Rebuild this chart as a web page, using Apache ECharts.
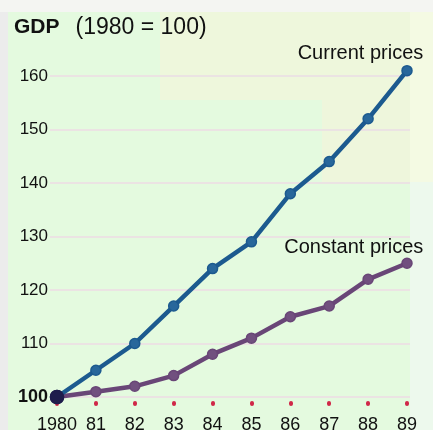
<!DOCTYPE html>
<html>
<head>
<meta charset="utf-8">
<script src="https://cdn.jsdelivr.net/npm/echarts@6/dist/echarts.min.js"></script>
<style>
  html, body { margin: 0; padding: 0; background: #e4fadf; }
  #chart { width: 433px; height: 430px; }
</style>
</head>
<body>
<div id="chart"></div>
<script>
// GDP index, 1980 = 100
const years = ['1980', '81', '82', '83', '84', '85', '86', '87', '88', '89'];
const currentPrices = [100, 105, 110, 117, 124, 129, 138, 144, 152, 161];
const constantPrices = [100, 101, 102, 104, 108, 111, 115, 117, 122, 125];
const yTicks = { min: 100, max: 160, step: 10 };

const FONT = '"Liberation Sans", Arial, Helvetica, sans-serif';
const BLUE = '#1c5a8f';
const PURPLE = '#694677';
const TEXT = '#111111';

function withFirstPoint(values) {
  return values.map((v, i) => i === 0
    ? { value: v, symbolSize: 13, itemStyle: { color: '#1e1d4c', borderColor: '#1e1d4c' } }
    : v);
}

function endLabel(values, text, pos) {
  const data = withFirstPoint(values);
  const last = data.length - 1;
  data[last] = {
    value: values[last],
    label: {
      show: true, formatter: text, position: pos, align: 'right', verticalAlign: 'middle',
      fontFamily: FONT, fontSize: 20, color: TEXT
    }
  };
  return data;
}

const chart = echarts.init(document.getElementById('chart'), null, { renderer: 'canvas' });

chart.setOption({
  backgroundColor: '#e4fadf',
  animation: false,
  graphic: [
    // paper tints behind the plot
    { type: 'rect', z: -10, shape: { x: 0, y: 0, width: 433, height: 12 }, style: { fill: '#f4f5f2' } },
    { type: 'rect', z: -10, shape: { x: 0, y: 12, width: 8, height: 418 }, style: { fill: '#ececec' } },
    { type: 'rect', z: -10, shape: { x: 160, y: 12, width: 250, height: 88 }, style: { fill: '#eef7dc' } },
    { type: 'rect', z: -10, shape: { x: 322, y: 100, width: 88, height: 84 }, style: { fill: '#eef6dc' } },
    { type: 'rect', z: -10, shape: { x: 410, y: 12, width: 23, height: 170 }, style: { fill: '#f4fae3' } },
    { type: 'rect', z: -10, shape: { x: 410, y: 182, width: 23, height: 248 }, style: { fill: '#edf9ed' } },
    {
      type: 'text', left: 14, top: 16, z: 10,
      style: {
        text: '{b|GDP}{n|(1980 = 100)}',
        font: '21px ' + FONT, fill: TEXT,
        rich: {
          b: { fontWeight: 'bold', fontSize: 21, fontFamily: FONT, fill: TEXT },
          n: { fontSize: 23, fontFamily: FONT, fill: TEXT, padding: [0, 0, 0, 16] }
        }
      }
    }
  ],
  grid: [
    { left: 57, right: 26, top: 76, bottom: 33, outerBoundsMode: 'none', containLabel: false },
    { left: 50, right: 23, top: 76, bottom: 33, outerBoundsMode: 'none', containLabel: false }
  ],
  xAxis: [
    {
      type: 'category', gridIndex: 0, data: years, boundaryGap: false,
      axisLine: { show: false }, axisTick: { show: false }, splitLine: { show: false },
      axisLabel: { margin: 19, fontFamily: FONT, fontSize: 18, color: TEXT, interval: 0 }
    },
    {
      type: 'category', gridIndex: 0, data: years, boundaryGap: false, position: 'bottom', offset: 6,
      axisLine: { show: false }, axisLabel: { show: false }, splitLine: { show: false },
      axisTick: { show: true, length: 1, interval: 0, lineStyle: { color: '#d02848', width: 4, cap: 'round' } }
    },
    {
      type: 'value', gridIndex: 1, min: 0, max: 1, show: false
    }
  ],
  yAxis: [
    {
      type: 'value', gridIndex: 0, min: yTicks.min, max: yTicks.max, interval: yTicks.step,
      axisLine: { show: false }, axisTick: { show: false }, splitLine: { show: false },
      axisLabel: { show: false }
    },
    {
      type: 'value', gridIndex: 1, min: yTicks.min, max: yTicks.max, interval: yTicks.step,
      axisLine: { show: false }, axisTick: { show: false },
      splitLine: { show: true, lineStyle: { color: '#ebe3e3', width: 2 } },
      axisLabel: {
        margin: 2, fontFamily: FONT, fontSize: 17, color: TEXT, align: 'right',
        formatter: v => v === yTicks.min ? '{b|' + v + '}' : String(v),
        rich: { b: { fontWeight: 'bold', fontFamily: FONT, fontSize: 18, color: TEXT } }
      }
    }
  ],
  series: [
    {
      name: 'Constant prices', type: 'line', xAxisIndex: 0, yAxisIndex: 0,
      data: endLabel(constantPrices, 'Constant prices', [22, -10]),
      symbol: 'circle', symbolSize: 10, clip: false,
      lineStyle: { color: PURPLE, width: 4.5 },
      itemStyle: { color: '#71507f', borderColor: PURPLE, borderWidth: 1.5 },
      z: 3
    },
    {
      name: 'Current prices', type: 'line', xAxisIndex: 0, yAxisIndex: 0,
      data: endLabel(currentPrices, 'Current prices', [22, -11]),
      symbol: 'circle', symbolSize: 10, clip: false,
      lineStyle: { color: BLUE, width: 4.5 },
      itemStyle: { color: '#28679b', borderColor: BLUE, borderWidth: 1.5 },
      z: 4
    }
  ]
});
</script>
</body>
</html>
